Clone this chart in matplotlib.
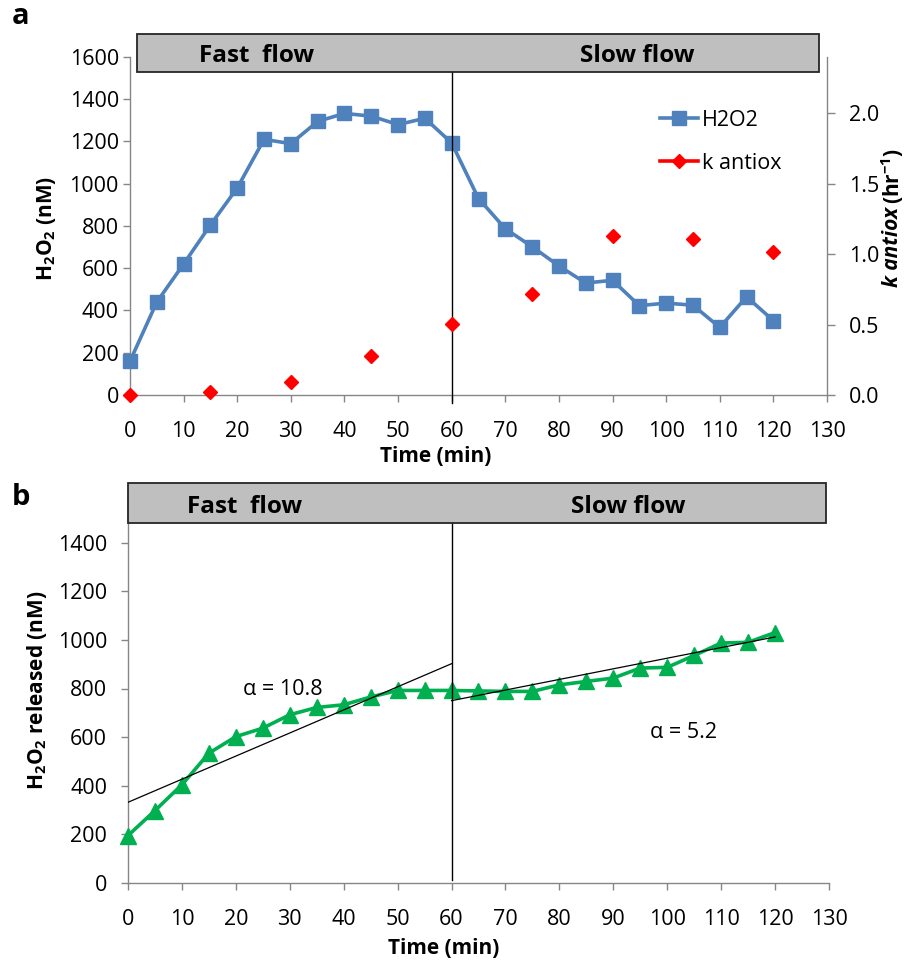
import matplotlib
matplotlib.use("Agg")
import matplotlib.pyplot as plt
from matplotlib.lines import Line2D
from matplotlib.patches import Rectangle
from matplotlib.ticker import FormatStrFormatter

plt.rcParams['font.family'] = ['Open Sans', 'DejaVu Sans']
plt.rcParams['mathtext.fontset'] = 'custom'
plt.rcParams['mathtext.rm'] = 'Open Sans'
plt.rcParams['mathtext.bf'] = 'Open Sans:bold'

# panel a: H2O2 concentration and k antiox
time_a = list(range(0, 125, 5))
h2o2_a = [160, 440, 620, 805, 980, 1210, 1190, 1295, 1333, 1320, 1280, 1310, 1193,
          930, 787, 702, 611, 530, 543, 423, 435, 425, 320, 465, 352]
time_k = [0, 15, 30, 45, 60, 75, 90, 105, 120]
k_antiox = [0.0, 0.02, 0.095, 0.28, 0.505, 0.72, 1.13, 1.11, 1.015]

# panel b: cumulative H2O2 released
time_b = list(range(0, 125, 5))
h2o2_released = [195, 298, 404, 534, 602, 637, 692, 722, 733, 765, 792, 792, 792,
                 790, 788, 788, 815, 829, 843, 884, 887, 936, 987, 990, 1030]
fast_fit_t = [0, 60]
fast_fit_y = [332, 902]
slow_fit_t = [60, 120]
slow_fit_y = [750, 1012]
switch_time = 60

W, H = 906, 961
GRAY = '#868686'
BLUE = '#4F81BD'
RED = '#FF0000'
GREEN = '#00B050'
TICK_FS = 15.5
LABEL_FS = 15


def fx(px):
    return px / W


def fy(py):
    return 1 - py / H


def style_axis(ax, ypad, xpad):
    for s in ['top', 'right']:
        ax.spines[s].set_visible(False)
    for s in ['left', 'bottom']:
        ax.spines[s].set_color(GRAY)
        ax.spines[s].set_linewidth(1.0)
    ax.tick_params(axis='both', direction='out', color=GRAY, width=1.0, length=5,
                   labelsize=TICK_FS, labelcolor='black')
    ax.tick_params(axis='x', pad=xpad)
    ax.tick_params(axis='y', pad=ypad)


fig = plt.figure(figsize=(W / 100, H / 100), dpi=100)

# ---------- panel a ----------
ax1 = fig.add_axes([fx(130), fy(395), (827 - 130) / W, (395 - 57) / H])
ax2 = ax1.twinx()

ax1.plot(time_a, h2o2_a, color=BLUE, lw=2.6, marker='s', ms=9.5, clip_on=False, zorder=3)
ax2.plot(time_k, k_antiox, ls='none', color=RED, marker='D', ms=7, clip_on=False, zorder=3)

ax1.set_xlim(0, 130)
ax1.set_ylim(0, 1600)
ax1.set_xticks(range(0, 131, 10))
ax1.set_yticks(range(0, 1601, 200))
ax2.set_ylim(0, 2.4)
ax2.set_yticks([0, 0.5, 1.0, 1.5, 2.0])
ax2.yaxis.set_major_formatter(FormatStrFormatter('%.1f'))
style_axis(ax1, 3, 13.5)
for s in ['top', 'left', 'bottom']:
    ax2.spines[s].set_visible(False)
ax2.spines['right'].set_color(GRAY)
ax2.spines['right'].set_linewidth(1.0)
ax2.tick_params(axis='y', direction='out', color=GRAY, width=1.0, length=6,
                labelsize=TICK_FS, pad=10)

ax1.plot([switch_time, switch_time], [0.955, -0.024], color='black', lw=1.0,
         transform=ax1.get_xaxis_transform(), clip_on=False, zorder=4)

handles = [Line2D([], [], color=BLUE, lw=2.6, marker='s', ms=9.5),
           Line2D([], [], color=RED, lw=2.6, marker='D', ms=7)]
fig.legend(handles, ['H2O2', 'k antiox'], loc='upper left',
           bbox_to_anchor=(fx(660), fy(110)), frameon=False, fontsize=15.5,
           handlelength=1.75, handletextpad=0.2, labelspacing=1.0,
           borderpad=0, borderaxespad=0)

fig.text(fx(436), fy(457), 'Time (min)', ha='center', va='center',
         fontsize=LABEL_FS, fontweight='bold')
fig.text(fx(46), fy(228), r'H$_\mathbf{2}$O$_\mathbf{2}$ (nM)', rotation=90,
         ha='center', va='center', fontsize=LABEL_FS, fontweight='bold')
fig.text(fx(893), fy(207), 'k antiox', rotation=90, rotation_mode='anchor',
         ha='right', va='center', fontsize=LABEL_FS, fontweight='bold', style='italic')
fig.text(fx(893), fy(204), r'(hr$^\mathbf{-1}$)', rotation=90, rotation_mode='anchor',
         ha='left', va='center', fontsize=LABEL_FS, fontweight='bold')

# ---------- panel b ----------
ax3 = fig.add_axes([fx(128), fy(883), (829 - 128) / W, (883 - 494) / H])
ax3.plot(time_b, h2o2_released, color=GREEN, lw=2.6, marker='^', ms=11,
         clip_on=False, zorder=3)
ax3.plot(fast_fit_t, fast_fit_y, color='black', lw=0.9, zorder=4)
ax3.plot(slow_fit_t, slow_fit_y, color='black', lw=0.9, zorder=4)
ax3.plot([switch_time, switch_time], [0.925, 0.008], color='black', lw=1.0,
         transform=ax3.get_xaxis_transform(), clip_on=False, zorder=4)
ax3.set_xlim(0, 130)
ax3.set_ylim(0, 1600)
ax3.set_xticks(range(0, 131, 10))
ax3.set_yticks(range(0, 1401, 200))
style_axis(ax3, 10, 14)

ax3.text(28.7, 795, '\u03b1 = 10.8', ha='center', va='center', fontsize=15.5)
ax3.text(103, 618, '\u03b1 = 5.2', ha='center', va='center', fontsize=15.5)

fig.text(fx(444), fy(948), 'Time (min)', ha='center', va='center',
         fontsize=LABEL_FS, fontweight='bold')
fig.text(fx(37), fy(690), r'H$_\mathbf{2}$O$_\mathbf{2}$ released (nM)', rotation=90,
         ha='center', va='center', fontsize=LABEL_FS, fontweight='bold')

# ---------- flow headers ----------
for (x0, y0, x1, y1) in [(137, 34, 819, 72), (128, 483, 826, 523)]:
    fig.add_artist(Rectangle((fx(x0), fy(y1)), fx(x1) - fx(x0), fy(y0) - fy(y1),
                             transform=fig.transFigure, facecolor='#BFBFBF',
                             edgecolor='#262626', lw=1.3, zorder=5))
for (x, y, s) in [(257, 56, 'Fast  flow'), (637, 56, 'Slow flow'),
                  (245, 507, 'Fast  flow'), (628, 507, 'Slow flow')]:
    fig.text(fx(x), fy(y), s, ha='center', va='center', fontsize=17.5,
             fontweight='bold', zorder=6)

fig.text(fx(12), fy(17), 'a', ha='left', va='center', fontsize=21, fontweight='bold')
fig.text(fx(12), fy(497), 'b', ha='left', va='center', fontsize=21, fontweight='bold')

fig.savefig('out.png', dpi=100)
